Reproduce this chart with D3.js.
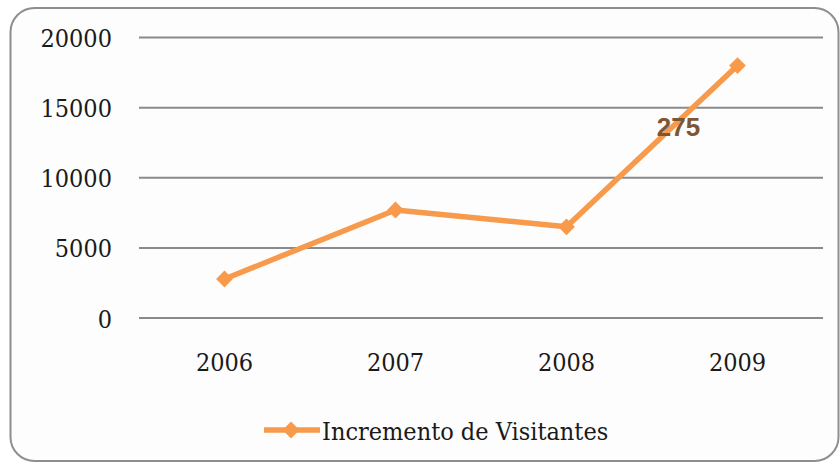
<!DOCTYPE html>
<html><head><meta charset="utf-8">
<script src="https://cdn.jsdelivr.net/npm/d3@7"></script>
<style>html,body{margin:0;padding:0;background:#fff;}svg{display:block;}</style>
</head><body>
<svg id="chart" width="840" height="464"></svg>
<script>
const years = ["2006", "2007", "2008", "2009"];
const visitantes = [2780, 7700, 6500, 18000];
const yTicks = [0, 5000, 10000, 15000, 20000];
const seriesName = "Incremento de Visitantes";
const labelText = "275";
const labelIndex = 3;

const svg = d3.select("#chart");
svg.append("rect").attr("x", 10.5).attr("y", 8).attr("width", 828).attr("height", 453)
  .attr("rx", 24).attr("ry", 24).attr("fill", "#fdfdfd").attr("stroke", "#8e8e8e").attr("stroke-width", 2);

const x = d3.scaleBand().domain(years).range([139, 823]);
const y = d3.scaleLinear().domain([0, 20000]).range([318, 37.5]);
const serif = "'DejaVu Serif Condensed', 'DejaVu Serif', serif";
const fs = 25;

svg.append("g").selectAll("line").data(yTicks).join("line")
  .attr("x1", 139).attr("x2", 823)
  .attr("y1", d => y(d)).attr("y2", d => y(d))
  .attr("stroke", "#8a8a8a").attr("stroke-width", 2);

const yAxis = d3.axisLeft(y).tickValues(yTicks).tickSize(0).tickPadding(0).tickFormat(d3.format("d"));
const gy = svg.append("g").attr("transform", "translate(112,0)").call(yAxis);
gy.select(".domain").remove();
gy.selectAll("text").attr("font-family", serif).style("font-stretch", "condensed")
  .attr("font-size", fs).attr("fill", "#1a1a1a").attr("dy", "0.36em");

const xAxis = d3.axisBottom(x).tickSize(0).tickPadding(0);
const gx = svg.append("g").attr("transform", "translate(0,353)").call(xAxis);
gx.select(".domain").remove();
gx.selectAll("text").attr("font-family", serif).style("font-stretch", "condensed")
  .attr("font-size", fs).attr("fill", "#1a1a1a").attr("dy", "0.71em");

const orange = "#f79a4c";
const cx = d => x(d) + x.bandwidth() / 2;
const line = d3.line().x((d, i) => cx(years[i])).y(d => y(d));
svg.append("path").datum(visitantes).attr("d", line)
  .attr("fill", "none").attr("stroke", orange).attr("stroke-width", 5.5).attr("stroke-linejoin", "round");

const diamond = d3.symbol().type(d3.symbolDiamond2).size(180);
svg.append("g").selectAll("path").data(visitantes).join("path")
  .attr("d", diamond)
  .attr("transform", (d, i) => `translate(${cx(years[i])},${y(d)})`)
  .attr("fill", orange);

svg.append("text").attr("x", cx(years[labelIndex]) - 59).attr("y", y(visitantes[labelIndex]) + 70)
  .attr("text-anchor", "middle").attr("font-family", "'Liberation Sans', Arial, sans-serif")
  .attr("font-weight", "bold").attr("font-size", 26).attr("fill", "#7d5632").text(labelText);

const lg = svg.append("g");
lg.append("line").attr("x1", 264).attr("x2", 320).attr("y1", 430).attr("y2", 430)
  .attr("stroke", orange).attr("stroke-width", 5.5);
lg.append("path").attr("d", diamond).attr("transform", "translate(291,430)").attr("fill", orange);
lg.append("text").attr("x", 322).attr("y", 440).attr("font-family", serif).style("font-stretch", "condensed")
  .attr("font-size", fs).attr("fill", "#1a1a1a").text(seriesName);
</script>
</body></html>
